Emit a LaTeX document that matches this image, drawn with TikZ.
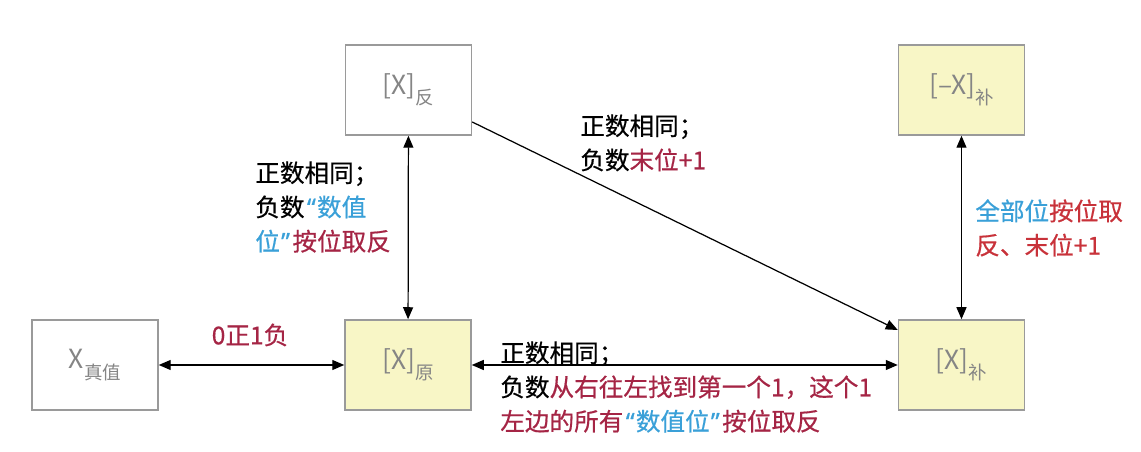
\documentclass[tikz,border=0pt]{standalone}
\usepackage{fontspec}
\setmainfont{Noto Sans CJK SC}
\newfontfamily\notefont{Noto Sans CJK SC}[FakeBold=0.6]
\newfontfamily\quotefont{Noto Sans}[FakeBold=0.6]
\usetikzlibrary{arrows.meta,calc}
\definecolor{boxgray}{HTML}{9A9A9A}
\definecolor{labgray}{HTML}{858585}
\definecolor{paleyellow}{HTML}{F8F6C6}
\definecolor{darkred}{HTML}{A52545}
\definecolor{brightred}{HTML}{C8323A}
\definecolor{skyblue}{HTML}{3AA0D8}
\newcommand{\subtxt}[1]{\raisebox{-0.4em}{\fontsize{10.5pt}{12pt}\selectfont #1}}
\newcommand{\openq}{{\quotefont\kern0.1em“\kern0.05em}}
\newcommand{\closeq}{{\quotefont\kern0.05em”\kern0.1em}}
\begin{document}
\begin{tikzpicture}[
    codebox/.style={rectangle, draw=boxgray, line width=0.85pt, fill=white, minimum width=2.52cm, minimum height=1.8cm, text=labgray, font=\fontsize{15pt}{18pt}\selectfont},
    filled/.style={codebox, fill=paleyellow},
    note/.style={anchor=north west, inner sep=0pt, align=left, font=\notefont\fontsize{14pt}{19.5pt}\selectfont},
    link/.style={{Triangle[length=2.4mm,width=2mm]}-{Triangle[length=2.4mm,width=2mm]}, line width=0.7pt},
    oneway/.style={-{Triangle[length=2.4mm,width=2mm]}, line width=0.7pt}
]
    \useasboundingbox (0,0) rectangle (22.82,9.04);

    % Codes
    \node[codebox] (zhen) at (1.90,1.74) {X\subtxt{真值}};
    \node[filled] (yuan) at (8.16,1.74) {[X]\subtxt{原}};
    \node[codebox] (fan) at (8.17,7.24) {[X]\subtxt{反}};
    \node[filled] (negbu) at (19.23,7.24) {[–X]\subtxt{补}};
    \node[filled] (bu) at (19.23,1.74) {[X]\subtxt{补}};

    % Umrechnungen
    \draw[link] (zhen) -- (yuan);
    \draw[link] (fan) -- (yuan);
    \draw[link] (yuan) -- (bu);
    \draw[link] (negbu) -- (bu);
    \draw[oneway] ($(fan.east)+(0,-0.64)$) -- ($(bu.west)+(0,0.70)$);

    % Regeln
    \node[note, anchor=center, text=darkred] (signrule) at (5.00,2.34) {0正1负};
    \node[note] (fanrule) at (5.10,5.82) {正数相同；\\负数\textcolor{skyblue}{\openq 数值}\\\textcolor{skyblue}{位\closeq}\textcolor{darkred}{按位取反}};
    \node[note] (fanburule) at (11.60,6.76) {正数相同；\\负数\textcolor{darkred}{末位+1}};
    \node[note, text=brightred] (negrule) at (19.50,5.06) {\textcolor{skyblue}{全部位}按位取\\反、末位+1};
    \node[note] (yuanburule) at (10.00,2.22) {正数相同；\\负数\textcolor{darkred}{从右往左找到第一个1，这个1}\\\textcolor{darkred}{左边的所有}\textcolor{skyblue}{\openq 数值位\closeq}\textcolor{darkred}{按位取反}};
\end{tikzpicture}
\end{document}
